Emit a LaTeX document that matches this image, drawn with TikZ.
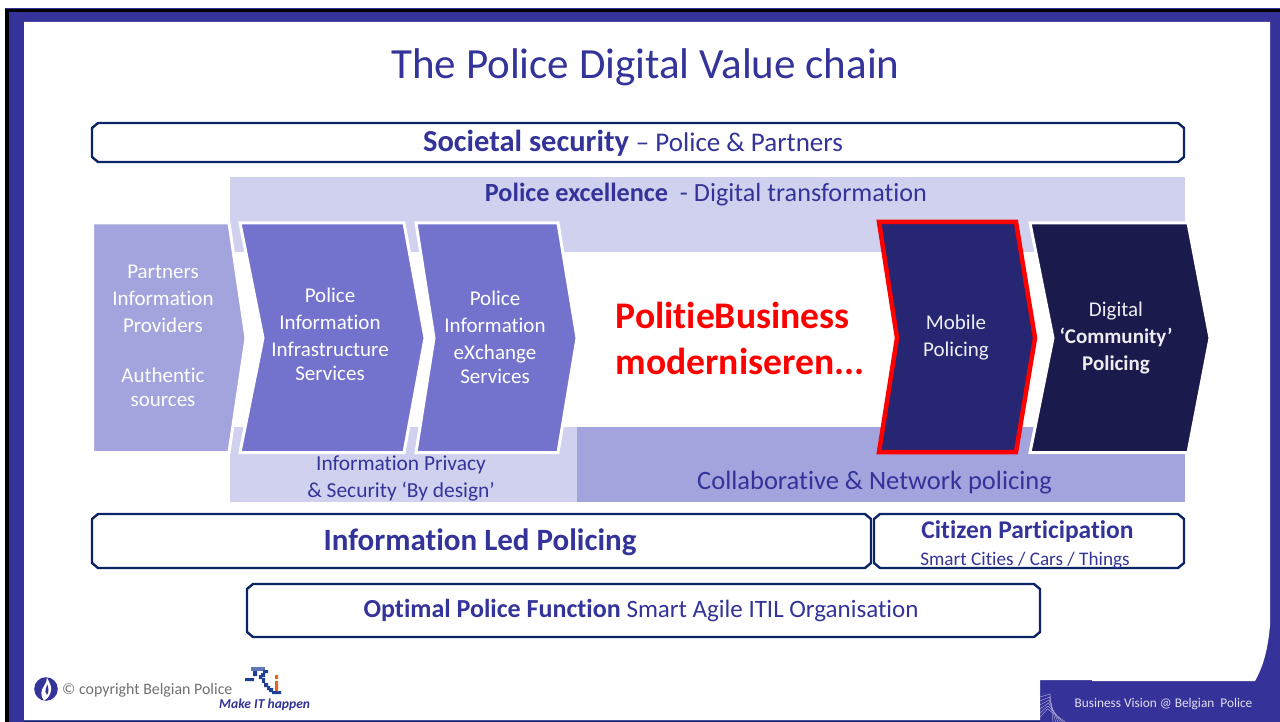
\documentclass[tikz,border=0pt]{standalone}
\usepackage{fontspec}
\setmainfont{Carlito}[Ligatures=NoCommon]
\definecolor{frameblue}{HTML}{353299}
\definecolor{navyline}{HTML}{0B2466}
\definecolor{txtblue}{HTML}{333399}
\definecolor{palelav}{HTML}{D0D1EE}
\definecolor{midlav}{HTML}{A3A3DE}
\definecolor{chevmid}{HTML}{7373CE}
\definecolor{chevdark}{HTML}{262673}
\definecolor{chevnight}{HTML}{1A1A4D}
\definecolor{greytxt}{HTML}{707070}
\definecolor{logoblue}{HTML}{1F3F94}
\definecolor{logoorange}{HTML}{E8641B}
\tikzset{
 banner/.style={draw=navyline,line width=2.4pt,fill=white,line join=round},
 chev/.style={line width=3pt,draw=white,line join=miter},
 lbl/.style={inner sep=0pt,align=center,text=txtblue,anchor=center},
 chevtxt/.style={inner sep=0pt,align=center,text=white,anchor=center,font=\fontsize{21}{27}\selectfont},
 pix/.style={fill=logoblue},
}
\newcommand{\cutbox}[4]{% x1,y1,x2,y2
 \draw[banner] (#1+6,#2) -- (#3-6,#2) -- (#3,#2+5) -- (#3,#4-5) -- (#3-6,#4) -- (#1+6,#4) -- (#1,#4-5) -- (#1,#2+5) -- cycle;}
\begin{document}
\begin{tikzpicture}[x=1pt,y=-1pt]
\useasboundingbox (0,0) rectangle (1280,722);
\fill[white] (0,0) rectangle (1280,722);
% frame
\fill[frameblue] (5,8) rectangle (1280,722);
\fill[black] (5,9) rectangle (1280,12);
\fill[black] (5,9) rectangle (9,722);
\fill[white] (24,22) -- (1270,22) -- (1270,625) .. controls (1268,648) and (1264,665) .. (1255,681) -- (1092,681) -- (1092,680) -- (1040,680) -- (1040,720) -- (24,720) -- cycle;
\fill[navyline] (24,720.5) rectangle (1040,722);
% footer mark
\begin{scope}
\clip (1040,680) rectangle (1070,722);
\foreach \i in {0,...,5}
  \draw[white!55!frameblue,line width=.5pt] (1040,{697+\i*4}) -- ({1050-\i*0.5},{694+\i*3}) -- ({1053+\i*2.5},722);
\end{scope}
\node[inner sep=0pt,text=white!85!frameblue,font=\fontsize{13.3}{15}\selectfont] (bv) at (1163.5,704.5) {Business Vision @ Belgian \ Police};
% title
\node[lbl,font=\fontsize{43}{46}\selectfont] (title) at (645.5,67) {The Police Digital Value chain};
% bands
\fill[palelav] (230,177) rectangle (1185,252);
\fill[palelav] (230,427) rectangle (577,502);
\fill[midlav] (577,427) rectangle (1185,502);
% banners
\cutbox{92}{123}{1184}{162}
\node[lbl] (soc) at (633,143) {\fontsize{30.5}{32}\selectfont\bfseries Societal security \fontsize{27}{32}\selectfont\mdseries -- Police \& Partners};
\node[lbl] (exc) at (706,195) {\fontsize{26.2}{28}\selectfont\bfseries Police excellence \ \mdseries - Digital transformation};
\cutbox{92}{514}{871}{568}
\node[lbl] (ilp) at (480,542.5) {\fontsize{31}{33}\selectfont\bfseries Information Led Policing};
\cutbox{874}{514}{1184}{568}
\node[lbl] (cit) at (1027.5,531.5) {\fontsize{25.5}{28}\selectfont\bfseries Citizen Participation};
\node[lbl] (smart) at (1025,560) {\fontsize{19.2}{20}\selectfont Smart Cities / Cars / Things};
\cutbox{247}{584}{1040}{637}
\node[lbl] (opt) at (641,611) {\fontsize{26}{28}\selectfont\bfseries Optimal Police Function \mdseries\fontsize{25}{28}\selectfont Smart Agile ITIL Organisation};
% chevrons
\draw[chev,fill=midlav] (92.5,223) -- (229,223) -- (246,338) -- (229,452.5) -- (92.5,452.5) -- cycle;
\draw[chev,fill=chevmid] (240,223) -- (404,223) -- (425,338) -- (404,452.5) -- (240,452.5) -- (263,338) -- cycle;
\draw[chev,fill=chevmid] (416,223) -- (558,223) -- (577,338) -- (558,452.5) -- (416,452.5) -- (434,338) -- cycle;
\draw[line width=4.5pt,draw=red,fill=chevdark,line join=miter] (879,222) -- (1016,222) -- (1035,338) -- (1016,452) -- (879,452) -- (897,338) -- cycle;
\draw[chev,fill=chevnight] (1030,223) -- (1188,223) -- (1210,338) -- (1188,452.5) -- (1030,452.5) -- (1053,338) -- cycle;
% chevron text
\node[chevtxt] (c1) at (163,336) {Partners\\Information\\Providers\\[23pt]Authentic\\[-3pt]sources};
\node[chevtxt] (c2) at (330,334.5) {Police\\Information\\Infrastructure\\[-3pt]Services};
\node[chevtxt] (c3) at (495,337.5) {Police\\Information\\eXchange\\[-3pt]Services};
\node[chevtxt,text=white!92!chevdark] (c4) at (956,337.5) {Mobile\\Policing};
\node[chevtxt,text=white!92!chevnight] (c5) at (1116,338) {Digital\\\textbf{‘Community’}\\\textbf{Policing}};
% centre
\node[inner sep=0pt,align=left,text=red,font=\fontsize{37.6}{46}\selectfont\bfseries] (biz) at (740,338) {PolitieBusiness\\moderniseren...};
% band texts
\node[lbl,font=\fontsize{21.4}{27}\selectfont] (priv) at (401,478) {Information Privacy\\\& Security ‘By design’};
\node[lbl,font=\fontsize{26.5}{28}\selectfont] (net) at (874.5,483) {Collaborative \& Network policing};
% footer left
\fill[txtblue] (46,689) circle (11.8);
\fill[white] (47,677.5) .. controls (50,684) and (53,688) .. (50,694) .. controls (48.5,698) and (45,700) .. (44,700.5) .. controls (40,696) and (41,690) .. (44,686) .. controls (46,683) and (47,681) .. (47,677.5) -- cycle;
\fill[txtblue] (47,684) .. controls (49,688) and (49,692) .. (47,695) .. controls (45,693) and (45,690) .. (46,688) .. controls (46.5,687) and (47,686) .. (47,684) -- cycle;
\node[inner sep=0pt,anchor=west,text=greytxt,font=\fontsize{15.9}{18}\selectfont] (copy) at (62,690) {© copyright Belgian Police};
\node[inner sep=0pt,anchor=west,text=txtblue,font=\fontsize{13.6}{15}\selectfont\bfseries\itshape] (make) at (219,705) {Make IT happen};
% pixel logo
\fill[pix,opacity=.7] (251,667) rectangle (265,671);
\fill[pix] (253,671) rectangle (257,676) (263,670) rectangle (268,673) (261,673) rectangle (265,677)
 (259,675) rectangle (262,679) (262,678) rectangle (265,683) (264,683) rectangle (268,687)
 (267,686) rectangle (270,690) (269,688) rectangle (273,692) (272,691) rectangle (281,694)
 (245,678) rectangle (254,681);
\fill[logoorange] (275,675) rectangle (278,679) (275,681) rectangle (278,691);
\end{tikzpicture}
\end{document}
